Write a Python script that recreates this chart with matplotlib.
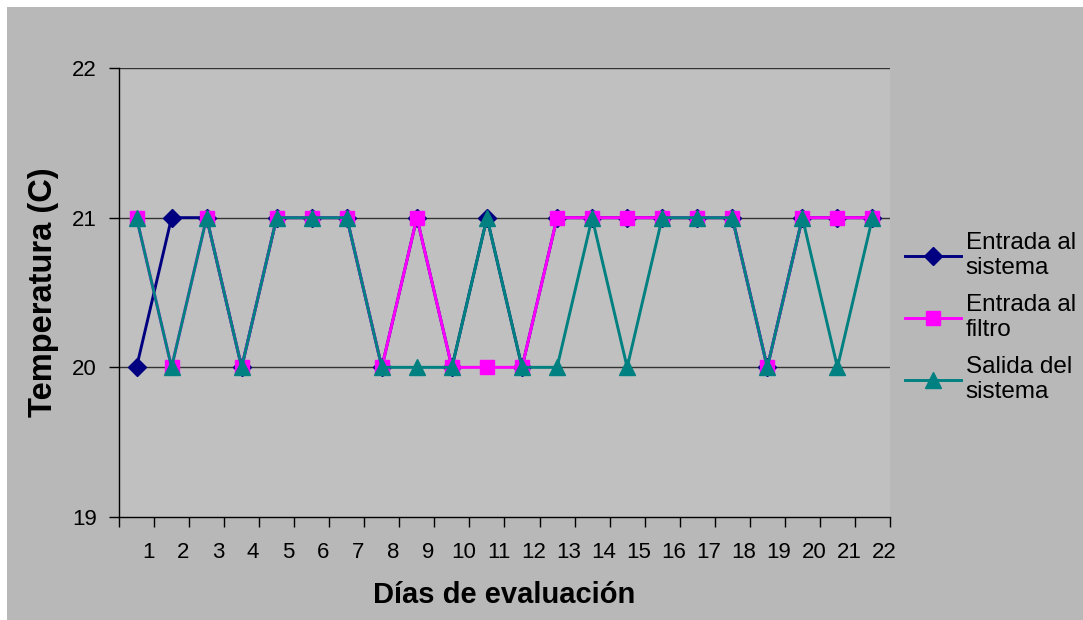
import numpy as np
import matplotlib.pyplot as plt
import matplotlib.transforms as mtransforms

plt.rcParams['font.family'] = ['Liberation Sans', 'DejaVu Sans']

# temperature readings per evaluation day
dias = list(range(1, 23))
entrada_sistema = [20, 21, 21, 20, 21, 21, 21, 20, 21, 20, 21, 20, 21, 21, 21, 21, 21, 21, 20, 21, 21, 21]
entrada_filtro = [21, 20, 21, 20, 21, 21, 21, 20, 21, 20, 20, 20, 21, 21, 21, 21, 21, 21, 20, 21, 21, 21]
salida_sistema = [21, 20, 21, 20, 21, 21, 21, 20, 20, 20, 21, 20, 20, 21, 20, 21, 21, 21, 20, 21, 20, 21]

fig = plt.figure(figsize=(10.83, 6.2), dpi=100)
fig.patch.set_facecolor('white')
# grey chart area inset from the white border
fig.patches.append(plt.Rectangle((7 / 1083, 0), 1, 1 - 7 / 620, transform=fig.transFigure,
                                 facecolor='#b8b8b8', edgecolor='none', zorder=-10))

ax = fig.add_axes([119 / 1083, 1 - 517 / 620, (890 - 119) / 1083, (517 - 68) / 620])
ax.set_facecolor('#c0c0c0')

# points sit in the middle of each category slot
x = np.array(dias) - 0.5
ax.plot(x, entrada_sistema, color='#000080', lw=2.1, marker='D', ms=9.5, label='Entrada al\nsistema')
ax.plot(x, entrada_filtro, color='#ff00ff', lw=2.1, marker='s', ms=10, label='Entrada al\nfiltro')
ax.plot(x, salida_sistema, color='#008080', lw=2.1, marker='^', ms=12, label='Salida del\nsistema')

ax.set_xlim(0, 22)
ax.set_ylim(19, 22)
ax.set_yticks([19, 20, 21, 22])
ax.set_xticks(range(0, 23))
ax.set_xticklabels([''] + [str(d) for d in dias])

for y in [20, 21, 22]:
    ax.axhline(y, color='#333333', lw=1, zorder=0.5)

for s in ['top', 'right']:
    ax.spines[s].set_visible(False)
for s in ['left', 'bottom']:
    ax.spines[s].set_color('black')
    ax.spines[s].set_linewidth(1)

ax.tick_params(axis='both', direction='out', length=7, width=1, color='black', labelsize=16)
ax.tick_params(axis='x', pad=11)
ax.tick_params(axis='y', pad=9)

# shift the day labels slightly left of their tick marks
offset = mtransforms.ScaledTranslation(-6 / 100, 0, fig.dpi_scale_trans)
for lbl in ax.get_xticklabels():
    lbl.set_transform(lbl.get_transform() + offset)

ax.set_xlabel('Días de evaluación', fontsize=21, fontweight='bold', labelpad=13)
ax.set_ylabel('Temperatura (C)', fontsize=23.5, fontweight='bold', labelpad=9)

leg = fig.legend(loc='upper left', bbox_to_anchor=(905 / 1083, 1 - 232 / 620), frameon=False,
                 fontsize=17.5, handlelength=2.3, handletextpad=0.2, labelspacing=0.6,
                 borderaxespad=0, borderpad=0)

fig.savefig('out.png', dpi=100, facecolor=fig.get_facecolor())
